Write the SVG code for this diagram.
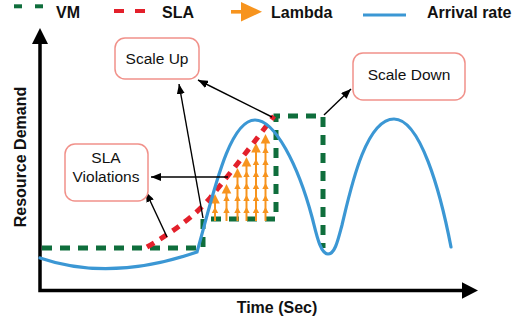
<svg xmlns="http://www.w3.org/2000/svg" xmlns:xlink="http://www.w3.org/1999/xlink" width="521" height="321" viewBox="0 0 521 321">
<style>
  .lbl { font-family: "Liberation Sans", Arial, sans-serif; font-size: 16px; font-weight: bold; fill: #111; }
  .btxt { font-family: "Liberation Sans", Arial, sans-serif; font-size: 15.5px; fill: #111; text-anchor: middle; }
  .box { fill: #fff; stroke: #f1918a; stroke-width: 1.5; }
  .vm { fill: none; stroke: #0f6e3c; stroke-width: 5; stroke-dasharray: 10 8; }
  .sla { fill: none; stroke: #e3202b; stroke-width: 5; stroke-dasharray: 8 7; }
  .arr { fill: none; stroke: #3b97d4; stroke-width: 3.2; stroke-linecap: round; }
  .lam { stroke: #f7941e; stroke-width: 2; }
  .lamh { fill: #f7941e; }
  .conn { fill: none; stroke: #000; stroke-width: 1.4; marker-end: url(#ah); }
  .axis { fill: none; stroke: #000; stroke-width: 3.5; }
</style>
<defs>
  <marker id="ah" markerUnits="userSpaceOnUse" markerWidth="10" markerHeight="8" refX="10" refY="4" orient="auto">
    <path d="M0,0 L10,4 L0,8 Z" fill="#000"/>
  </marker>
  <path id="sh" d="M0,0 L-3.2,6 L3.2,6 Z" class="lamh"/>
  <path id="bh" d="M0,0 L-4.8,9.5 L4.8,9.5 Z" class="lamh"/>
</defs>

<!-- Legend -->
<g id="legend">
  <line x1="14" y1="6.3" x2="22" y2="6.3" stroke="#0f6e3c" stroke-width="4"/>
  <line x1="35" y1="6.3" x2="43" y2="6.3" stroke="#0f6e3c" stroke-width="4"/>
  <text class="lbl" x="56" y="18">VM</text>
  <line x1="114" y1="11" x2="124" y2="11" stroke="#e3202b" stroke-width="4"/>
  <line x1="135" y1="11" x2="145" y2="11" stroke="#e3202b" stroke-width="4"/>
  <text class="lbl" x="162" y="18">SLA</text>
  <rect x="231" y="10" width="11" height="3.6" fill="#f7941e"/>
  <path d="M241,2 L262,11.8 L241,21.5 Z" fill="#f7941e"/>
  <text class="lbl" x="271" y="18">Lambda</text>
  <line x1="363" y1="15" x2="406" y2="15" stroke="#3b97d4" stroke-width="3.2"/>
  <text class="lbl" x="427" y="18">Arrival rate</text>
</g>

<!-- Axes -->
<g id="axes">
  <path class="axis" d="M40,43 V290.5 H463"/>
  <path d="M40,28 L48,44 L32,44 Z" fill="#000"/>
  <path d="M478,290.5 L462,282.3 L462,298.7 Z" fill="#000"/>
  <text class="lbl" x="277" y="313" text-anchor="middle">Time (Sec)</text>
  <text class="lbl" transform="translate(26,157) rotate(-90)" text-anchor="middle">Resource Demand</text>
</g>

<!-- Curves -->
<g id="vm-line">
  <path class="vm" d="M42,248 H203 V219 H276 V116 H323 V248"/>
</g>
<g id="lambda">
  <line class="lam" x1="215" y1="221" x2="215" y2="200"/>
  <line class="lam" x1="226.5" y1="221" x2="226.5" y2="190"/>
  <line class="lam" x1="237.5" y1="221" x2="237.5" y2="174"/>
  <line class="lam" x1="246.5" y1="221" x2="246.5" y2="163"/>
  <line class="lam" x1="256" y1="221" x2="256" y2="149"/>
  <line class="lam" x1="265.5" y1="221" x2="265.5" y2="140"/>
  <use xlink:href="#bh" x="215" y="194"/>
  <use xlink:href="#bh" x="226.5" y="184"/>
  <use xlink:href="#bh" x="237.5" y="168"/>
  <use xlink:href="#bh" x="246.5" y="157"/>
  <use xlink:href="#bh" x="256" y="143"/>
  <use xlink:href="#bh" x="265.5" y="134"/>
  <use xlink:href="#sh" x="215" y="207"/>
  <use xlink:href="#sh" x="226.5" y="207"/><use xlink:href="#sh" x="226.5" y="195"/>
  <use xlink:href="#sh" x="237.5" y="207"/><use xlink:href="#sh" x="237.5" y="195"/><use xlink:href="#sh" x="237.5" y="183"/>
  <use xlink:href="#sh" x="246.5" y="207"/><use xlink:href="#sh" x="246.5" y="195"/><use xlink:href="#sh" x="246.5" y="183"/><use xlink:href="#sh" x="246.5" y="171"/>
  <use xlink:href="#sh" x="256" y="207"/><use xlink:href="#sh" x="256" y="195"/><use xlink:href="#sh" x="256" y="183"/><use xlink:href="#sh" x="256" y="171"/><use xlink:href="#sh" x="256" y="159"/>
  <use xlink:href="#sh" x="265.5" y="207"/><use xlink:href="#sh" x="265.5" y="195"/><use xlink:href="#sh" x="265.5" y="183"/><use xlink:href="#sh" x="265.5" y="171"/><use xlink:href="#sh" x="265.5" y="159"/><use xlink:href="#sh" x="265.5" y="147"/>
</g>
<g id="sla-line">
  <path class="sla" d="M147,247 Q190,222 210,198 T274,116"/>
</g>
<g id="arrival-rate">
  <path class="arr" d="M40,258 Q110,282 197,252 C212,200 228,120 255,120 C275,120 298,165 312,217 C316,232 320,254 328,254 C335,254 338,240 342,225 C350,192 365,119 394,119 C420,119 440,190 451,247"/>
</g>

<!-- Connectors -->
<g id="connectors">
  <line class="conn" x1="272" y1="117" x2="198" y2="80"/>
  <line class="conn" x1="203" y1="218" x2="179" y2="84"/>
  <line class="conn" x1="228" y1="177" x2="151" y2="177"/>
  <line class="conn" x1="167" y1="237" x2="146" y2="192"/>
  <line class="conn" x1="324" y1="115" x2="351" y2="89"/>
</g>

<!-- Nodes -->
<g id="scale-up">
  <rect class="box" x="115" y="38" width="84" height="41" rx="10"/>
  <text class="btxt" x="157" y="64">Scale Up</text>
</g>
<g id="sla-violations">
  <rect class="box" x="65" y="144" width="83" height="57" rx="10"/>
  <text class="btxt" x="106" y="163">SLA</text>
  <text class="btxt" x="106" y="182">Violations</text>
</g>
<g id="scale-down">
  <rect class="box" x="353" y="53" width="112" height="47" rx="10"/>
  <text class="btxt" x="409" y="80">Scale Down</text>
</g>
</svg>
